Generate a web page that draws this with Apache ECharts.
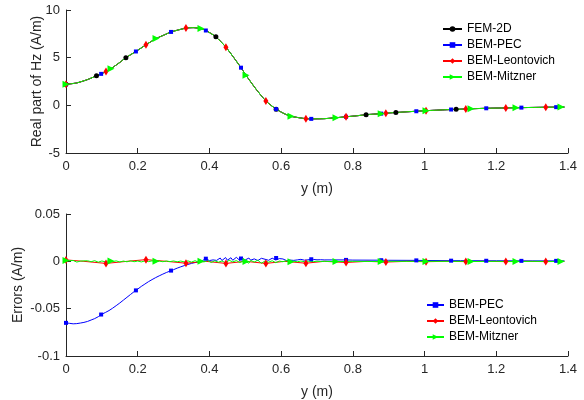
<!DOCTYPE html>
<html><head><meta charset="utf-8">
<script src="https://cdn.jsdelivr.net/npm/echarts@6/dist/echarts.min.js"></script>
<style>html,body{margin:0;padding:0;background:#fff}#c{width:584px;height:400px}</style>
</head><body><div id="c"></div>
<script>
// ---- Top: real part of Hz ----
const hzX = [0,0.03,0.06,0.085,0.098,0.1115,0.1255,0.15,0.167,0.195,
0.223,0.251,0.275,0.293,0.3345,0.355,0.3765,0.39,0.418,0.446,
0.47,0.488,0.502,0.53,0.5575,0.586,0.61,0.6275,0.65,0.669,
0.684,0.72,0.753,0.781,0.81,0.837,0.879,0.892,0.92,0.977,
1.004,1.05,1.074,1.088,1.115,1.1295,1.172,1.2265,1.255,1.27,
1.338,1.367,1.3805,1.39];
const hzReal = [2.2,2.35,2.7,3.1,3.3,3.55,3.85,4.5,5.0,5.65,
6.35,7.0,7.4,7.7,8.1,8.15,8.05,7.85,7.2,6.1,
4.9,3.95,3.15,1.7,0.45,-0.4,-0.9,-1.15,-1.3,-1.4,
-1.42,-1.4,-1.3,-1.2,-1.1,-0.98,-0.87,-0.83,-0.75,-0.62,
-0.56,-0.48,-0.44,-0.42,-0.38,-0.36,-0.31,-0.27,-0.25,-0.24,
-0.2,-0.19,-0.18,-0.18];
const femMarkX = [0,0.085,0.167,0.418,0.586,0.837,0.92,1.088];
const pecMarkX = [0,0.098,0.195,0.293,0.39,0.488,0.586,0.684,0.781,0.879,0.977,1.074,1.172,1.27,1.367];
const leoMarkX = [0,0.1115,0.223,0.3345,0.446,0.5575,0.669,0.781,0.892,1.004,1.115,1.2265,1.338];
const mitMarkX = [0,0.1255,0.251,0.3765,0.502,0.6275,0.753,0.879,1.004,1.1295,1.255,1.3805];

// ---- Bottom: errors ----
const errX = [0,0.005,0.01,0.015,0.02,0.025,0.03,0.035,0.04,0.045,0.05,0.055,0.06,0.07,0.08,0.09,
0.10,0.11,0.12,0.13,0.14,0.15,0.16,0.17,0.18,0.19,
0.20,0.21,0.22,0.23,0.24,0.25,0.26,0.27,0.28,0.29,
0.30,0.31,0.32,0.33,0.34,0.35,0.36,0.37,0.38,0.385,0.39,0.395,
0.40,0.405,0.41,0.415,0.42,0.425,0.43,0.435,0.44,0.445,0.45,0.455,0.46,0.465,0.47,0.475,0.48,0.485,0.49,0.495,
0.50,0.505,0.51,0.515,0.52,0.525,0.53,0.535,0.54,0.545,0.55,0.555,0.56,0.565,0.57,0.575,0.58,0.585,0.59,0.595,
0.60,0.605,0.61,0.615,0.62,0.625,0.63,0.635,0.64,0.645,0.65,0.655,0.66,0.665,0.67,0.675,0.68,0.69,
0.70,0.71,0.72,
0.8,0.9,1.0,1.1,1.2,1.3,1.39];
const pecErr = [-0.065,-0.0652,-0.0655,-0.066,-0.066,-0.0648,-0.0658,-0.0662,-0.0652,-0.0655,-0.0645,-0.0646,-0.0635,-0.062,-0.0605,-0.0585,
-0.0555,-0.054,-0.052,-0.0495,-0.0468,-0.044,-0.041,-0.038,-0.035,-0.032,
-0.0293,-0.0265,-0.024,-0.0215,-0.0193,-0.0172,-0.0153,-0.0135,-0.0118,-0.0103,
-0.0088,-0.0072,-0.0058,-0.0045,-0.0033,-0.0022,-0.0013,-0.0005,0.0008,0.0004,0.0025,0.0012,
0.0008,0.0022,0.0015,0.0032,0.001,0.0018,0.0035,0.0009,0.0015,0.004,0.0012,0.0028,0.0038,0.0011,0.002,0.0042,0.0024,0.0009,0.0035,0.0016,
0.0015,0.003,0.0035,0.0012,0.001,0.0026,0.003,0.0008,0.0014,0.0032,0.0012,0.0022,0.0028,0.0011,0.0015,0.0033,0.0035,0.0014,0.0019,0.0029,
0.0012,0.0025,0.0018,0.0008,0.002,0.0013,0.0024,0.001,0.0022,0.0015,0.0012,0.0021,0.0017,0.0012,0.002,0.0016,0.0018,0.002,
0.0016,0.0017,0.0015,
0.0013,0.0011,0.0009,0.0007,0.0006,0.0005,0.0005];
const mitErr = [0.001,-0.0003,0.0006,-0.0008,0.0009,-0.0004,-0.0008,0.0007,0.0002,-0.001,0.0005,-0.0002,0.0006,-0.0004,0.0007,-0.0009,
0.0004,-0.0006,0.0008,-0.0003,0.0005,-0.0007,0.0003,-0.0005,0.0006,-0.0004,
0.0003,-0.0006,0.0004,-0.0003,0.0005,-0.0005,0.0003,-0.0004,0.0004,-0.0003,
0.0004,-0.0005,0.0003,-0.0006,0.0005,-0.0008,0.0007,-0.001,0.0012,-0.0006,-0.0015,0.0009,
0.0018,-0.0012,-0.002,0.0006,0.0015,-0.0009,-0.0025,0.0004,0.001,-0.0016,-0.0022,0.0011,0.0016,-0.0006,-0.0018,0.0008,0.0012,-0.0013,-0.0024,0.0005,
0.0008,-0.0011,-0.002,0.0009,0.0014,-0.0007,-0.0016,0.0012,0.0009,-0.0021,-0.0018,0.0004,0.0012,-0.0009,-0.0015,0.0006,0.0008,-0.0014,-0.0012,0.0003,
0.0006,-0.0004,-0.001,0.0007,0.0005,-0.0009,-0.0008,0.0002,0.0004,-0.0005,-0.0006,0.0003,0.0003,-0.0004,-0.0005,0.0002,0.0002,-0.0003,
0.0001,-0.0002,0,
0,0,0,0,0,0,0];
const leoErrX = [0.05,0.17,0.28,0.39,0.5,0.61,0.72,0.84,0.95,1.06,1.17,1.28,1.39];
const leoErr  = [0,0,0,0,0,0,0,0,0,0,0,0,0];
const pecErrMarks = [[0,-0.065],[0.098,-0.0562],[0.195,-0.0307],[0.293,-0.0098],[0.39,0.0028],[0.488,0.003],[0.586,0.0035],[0.684,0.0022],[0.781,0.0015],[0.879,0.0012],[0.977,0.001],[1.074,0.0007],[1.172,0.0006],[1.27,0.0005],[1.367,0.0005]];
const leoErrMarks = [[0,0.0015],[0.1115,-0.0022],[0.223,0.0018],[0.3345,-0.002],[0.446,-0.0022],[0.5575,-0.0022],[0.669,-0.002],[0.781,-0.0012],[0.892,-0.0008],[1.004,-0.0004],[1.115,-0.0003],[1.2265,-0.0003],[1.338,-0.0003]];
const mitErrMarks = [[0,0.001],[0.1255,0.0003],[0.251,0.0002],[0.3765,0],[0.502,-0.0003],[0.6275,-0.0005],[0.753,-0.0003],[0.879,-0.0002],[1.004,-0.0002],[1.1295,-0.0002],[1.255,-0.0002],[1.3805,-0.0002]];

const names = ['FEM-2D','BEM-PEC','BEM-Leontovich','BEM-Mitzner'];

const FONT = 'Liberation Sans, Arial, Helvetica, sans-serif';
const AX = '#262626';
const sty = {
  'FEM-2D': {color:'#000000', symbol:'circle', size:5},
  'BEM-PEC': {color:'#0000ff', symbol:'rect', size:4},
  'BEM-Leontovich': {color:'#ff0000', symbol:'diamond', size:[5,8]},
  'BEM-Mitzner': {color:'#00ff00', symbol:'path://M0,0L10,5L0,10Z', size:[7,7]}
};

function topData(markX){
  return hzX.map((x,i)=>{
    const d = {value:[x,hzReal[i]]};
    if(!markX.includes(x)) d.symbol='none';
    return d;
  });
}
function botData(xs, ys, marks){
  return xs.map((x,i)=>({value:[x,ys[i]], symbol:'none'}))
    .concat(marks.map(m=>({value:m})))
    .sort((a,b)=>a.value[0]-b.value[0]);
}
function mkSeries(name, data, idx, smooth){
  const s = sty[name];
  return {name, type:'line', xAxisIndex:idx, yAxisIndex:idx, data,
    symbol:s.symbol, symbolSize:s.size, showSymbol:true, showAllSymbol:true,
    smooth: smooth, lineStyle:{color:s.color, width:1}, itemStyle:{color:s.color},
    emphasis:{disabled:true}, silent:true, z:2};
}
function xAxis(idx){
  return {type:'value', gridIndex:idx, min:0, max:1.4, interval:0.2,
    name:'y (m)', nameLocation:'middle', nameGap:29, nameMoveOverlap:false,
    nameTextStyle:{color:AX, fontSize:14, fontFamily:FONT},
    axisLine:{onZero:false, lineStyle:{color:AX, width:1}},
    axisTick:{inside:true, length:5, lineStyle:{color:AX}},
    axisLabel:{color:AX, fontSize:13, fontFamily:FONT, margin:7},
    splitLine:{show:false}};
}
function yAxis(idx, min, max, interval, name, gap){
  return {type:'value', gridIndex:idx, min, max, interval,
    name, nameLocation:'middle', nameGap:gap, nameRotate:90, nameMoveOverlap:false,
    nameTextStyle:{color:AX, fontSize:14, fontFamily:FONT},
    axisLine:{show:true, onZero:false, lineStyle:{color:AX, width:1}},
    axisTick:{show:true, inside:true, length:5, lineStyle:{color:AX}},
    axisLabel:{color:AX, fontSize:13, fontFamily:FONT, margin:6},
    splitLine:{show:false}};
}

const chart = echarts.init(document.getElementById('c'), null, {renderer:'canvas'});
chart.setOption({
  animation:false,
  backgroundColor:'#ffffff',
  grid:[{left:66, top:10, width:502, height:143},
        {left:66, top:214, width:502, height:142}],
  xAxis:[xAxis(0), xAxis(1)],
  yAxis:[yAxis(0,-5,10,5,'Real part of Hz (A/m)',22), yAxis(1,-0.1,0.05,0.05,'Errors (A/m)',41)],
  legend:[
    {data:names, orient:'vertical', left:442, top:22, padding:0, itemWidth:19, itemHeight:7, itemGap:2,
     textStyle:{color:'#000', fontSize:12, lineHeight:14, fontFamily:FONT}, selectedMode:false},
    {data:names.slice(1), orient:'vertical', left:426, top:298, padding:0, itemWidth:17, itemHeight:7, itemGap:2,
     textStyle:{color:'#000', fontSize:12, lineHeight:14, fontFamily:FONT}, selectedMode:false}
  ],
  series:[
    mkSeries('FEM-2D', topData(femMarkX), 0, 0.2),
    mkSeries('BEM-PEC', topData(pecMarkX), 0, 0.2),
    mkSeries('BEM-Leontovich', topData(leoMarkX), 0, 0.2),
    mkSeries('BEM-Mitzner', topData(mitMarkX), 0, 0.2),
    mkSeries('BEM-PEC', botData(errX, pecErr, pecErrMarks), 1, false),
    mkSeries('BEM-Leontovich', botData(leoErrX, leoErr, leoErrMarks), 1, false),
    mkSeries('BEM-Mitzner', botData(errX, mitErr, mitErrMarks), 1, false)
  ]
});
</script></body></html>
